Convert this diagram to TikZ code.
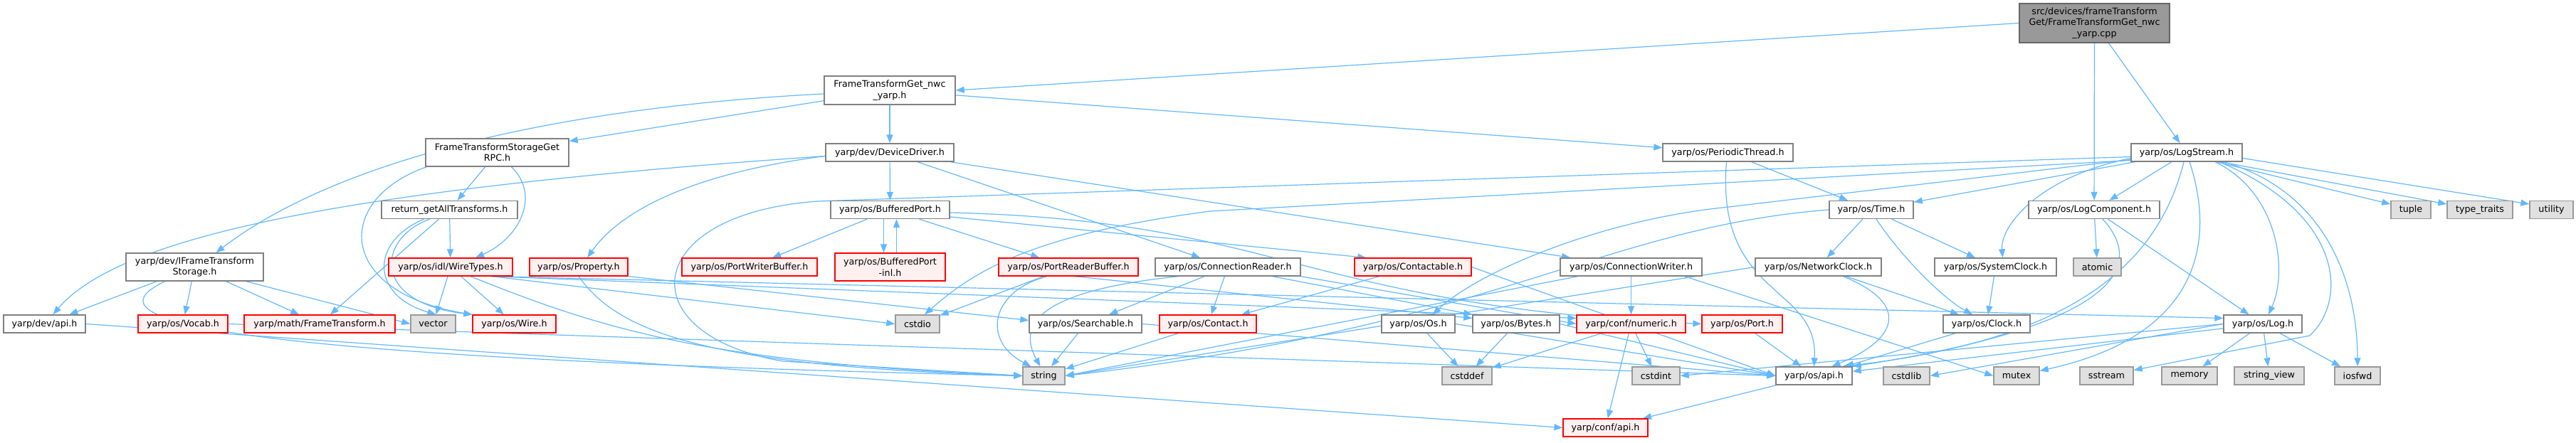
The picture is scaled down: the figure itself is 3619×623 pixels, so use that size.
\documentclass[tikz,border=0pt]{standalone}
\usepackage{fontspec}
\newfontfamily\dvs{DejaVu Sans}
\usetikzlibrary{arrows.meta,calc,backgrounds}
\definecolor{edgeblue}{HTML}{63B8FF}
\definecolor{nodegray}{HTML}{808080}
\definecolor{sysfill}{HTML}{E0E0E0}
\definecolor{sysdraw}{HTML}{999999}
\definecolor{truncfill}{HTML}{FFF0F0}
\definecolor{truncdraw}{HTML}{FF0000}
\definecolor{mainfill}{HTML}{999999}
\definecolor{maindraw}{HTML}{666666}
\begin{document}
\begin{tikzpicture}[x=1pt,y=-1pt,
 nd/.style={draw=nodegray, fill=white, line width=1.4pt, inner sep=0pt, minimum height=25pt, align=center, font=\dvs\fontsize{12.7}{15.5}\selectfont},
 trunc/.style={nd, draw=truncdraw, fill=truncfill, line width=1.2pt},
 sys/.style={nd, draw=sysdraw, fill=sysfill},
 mainnd/.style={nd, draw=maindraw, fill=mainfill},
 dep/.style={draw=edgeblue, line width=1.2pt, -{Triangle[length=12pt,width=9pt]}},
]
\useasboundingbox (0,0) rectangle (3619,623);
% row 0
\node[mainnd, minimum width=211pt, minimum height=55pt] (main) at (2942.5,32.5) {src/devices/frameTransform\\Get/FrameTransformGet\_nwc\\\_yarp.cpp};
% row 1
\node[nd, minimum width=184pt, minimum height=40pt] (FTGet) at (1250,127) {FrameTransformGet\_nwc\\\_yarp.h};
% row 2
\node[nd, minimum width=201pt, minimum height=39pt] (FTRPC) at (698.5,214.5) {FrameTransformStorageGet\\RPC.h};
\node[nd, minimum width=180pt] (DevDrv) at (1250,214.5) {yarp/dev/DeviceDriver.h};
\node[nd, minimum width=183pt] (PerThr) at (2427.5,214.5) {yarp/os/PeriodicThread.h};
\node[nd, minimum width=156pt] (LogStream) at (3072,214.5) {yarp/os/LogStream.h};
% row 3
\node[nd, minimum width=191pt] (retAll) at (631.5,295) {return\_getAllTransforms.h};
\node[nd, minimum width=167pt] (BufPort) at (1250.5,295) {yarp/os/BufferedPort.h};
\node[nd, minimum width=118pt] (Time) at (2629,295) {yarp/os/Time.h};
\node[nd, minimum width=184pt] (LogComp) at (2942,295) {yarp/os/LogComponent.h};
\node[sys, minimum width=56pt] (tuple) at (3387,295) {tuple};
\node[sys, minimum width=92pt] (typetraits) at (3484,295) {type\_traits};
\node[sys, minimum width=61pt] (utility) at (3584.5,295) {utility};
% row 4
\node[nd, minimum width=193pt, minimum height=39pt] (IFTS) at (273.5,375.5) {yarp/dev/IFrameTransform\\Storage.h};
\node[trunc, minimum width=174pt] (WireTypes) at (633,375.5) {yarp/os/idl/WireTypes.h};
\node[trunc, minimum width=138pt] (Property) at (813,375.5) {yarp/os/Property.h};
\node[trunc, minimum width=190pt] (PWBuf) at (1053,375.5) {yarp/os/PortWriterBuffer.h};
\node[trunc, minimum width=155pt, minimum height=39pt] (BPinl) at (1250.5,375.5) {yarp/os/BufferedPort\\-inl.h};
\node[trunc, minimum width=196pt] (PRBuf) at (1501,375.5) {yarp/os/PortReaderBuffer.h};
\node[nd, minimum width=204pt] (ConnR) at (1725,375.5) {yarp/os/ConnectionReader.h};
\node[trunc, minimum width=164pt] (Contactable) at (1985,375.5) {yarp/os/Contactable.h};
\node[nd, minimum width=199pt] (ConnW) at (2291.5,375.5) {yarp/os/ConnectionWriter.h};
\node[nd, minimum width=177pt] (NetClock) at (2554.5,375.5) {yarp/os/NetworkClock.h};
\node[nd, minimum width=171pt] (SysClock) at (2803.5,375.5) {yarp/os/SystemClock.h};
\node[sys, minimum width=67pt] (atomic) at (2946.5,375.5) {atomic};
% row 5
\node[nd, minimum width=115pt] (devapi) at (62.5,455.5) {yarp/dev/api.h};
\node[trunc, minimum width=126pt] (Vocab) at (257,455.5) {yarp/os/Vocab.h};
\node[trunc, minimum width=212pt] (FT) at (449,455.5) {yarp/math/FrameTransform.h};
\node[sys, minimum width=63pt] (vector) at (608.5,455.5) {vector};
\node[trunc, minimum width=117pt] (Wire) at (722.5,455.5) {yarp/os/Wire.h};
\node[sys, minimum width=62pt] (cstdio) at (1289,455.5) {cstdio};
\node[nd, minimum width=158pt] (Searchable) at (1525,455.5) {yarp/os/Searchable.h};
\node[trunc, minimum width=136pt] (Contact) at (1697,455.5) {yarp/os/Contact.h};
\node[nd, minimum width=103pt] (Os) at (1992.5,455.5) {yarp/os/Os.h};
\node[nd, minimum width=122pt] (Bytes) at (2130,455.5) {yarp/os/Bytes.h};
\node[trunc, minimum width=153pt] (numeric) at (2291.5,455.5) {yarp/conf/numeric.h};
\node[trunc, minimum width=113pt] (Port) at (2447.5,455.5) {yarp/os/Port.h};
\node[nd, minimum width=122pt] (Clock) at (2791,455.5) {yarp/os/Clock.h};
\node[nd, minimum width=110pt] (Log) at (3179,455.5) {yarp/os/Log.h};
% row 6
\node[sys, minimum width=59pt] (string) at (1466.5,528.5) {string};
\node[sys, minimum width=70pt] (cstddef) at (2061,528.5) {cstddef};
\node[sys, minimum width=67pt] (cstdint) at (2326.5,528.5) {cstdint};
\node[nd, minimum width=107pt] (osapi) at (2548.5,528.5) {yarp/os/api.h};
\node[sys, minimum width=65pt] (cstdlib) at (2678.5,528.5) {cstdlib};
\node[sys, minimum width=64pt] (mutex) at (2833,528.5) {mutex};
\node[sys, minimum width=75pt] (sstream) at (2959.5,528.5) {sstream};
\node[sys, minimum width=78pt] (memory) at (3076,528.5) {memory};
\node[sys, minimum width=98pt] (strview) at (3188,528.5) {string\_view};
\node[sys, minimum width=64pt] (iosfwd) at (3312,528.5) {iosfwd};
% row 7
\node[trunc, minimum width=119pt] (confapi) at (2255.5,601.5) {yarp/conf/api.h};

\begin{pgfonlayer}{background}
% main
\draw[dep] (main.west) -- (FTGet.east);
\draw[dep] (main) -- (LogComp);
\draw[dep] (main) -- (LogStream);
% FTGet
\draw[dep] (FTGet) -- (FTRPC);
\draw[dep] (FTGet) -- (DevDrv);
\draw[dep] (FTGet) -- (PerThr);
\draw[dep] ($(FTGet.west)+(0,5)$) .. controls (800,150) and (480,220) .. ($(IFTS.north)+(30,0)$);
% FTRPC
\draw[dep] (FTRPC) -- (retAll);
\draw[dep] ($(FTRPC.south)+(20,0)$) .. controls (760,275) and (730,335) .. ($(WireTypes.north)+(35,0)$);
\draw[dep] ($(FTRPC.south west)+(2,0)$) .. controls (470,280) and (470,410) .. (Wire.north west);
% retAll
\draw[dep] (retAll) -- (WireTypes);
\draw[dep] (retAll) -- (FT);
\draw[dep] ($(retAll.south)+(-36,0)$) .. controls (520,340) and (520,415) .. ($(vector.north)+(4,0)$);
\draw[dep] ($(retAll.south)+(-28,0)$) .. controls (530,335) and (520,425) .. (Wire.north west);
% IFTS
\draw[dep] (IFTS) -- (devapi);
\draw[dep] (IFTS) -- (Vocab);
\draw[dep] (IFTS) -- (FT);
\draw[dep] ($(IFTS.south east)+(-25,0)$) -- (vector.west);
\draw[dep] ($(IFTS.south)+(-42,0)$) .. controls (140,440) and (180,500) .. (string.west);
% DevDrv
\draw[dep] (DevDrv) -- (BufPort);
\draw[dep] ($(DevDrv.west)+(0,5)$) .. controls (1000,240) and (880,285) .. ($(Property.north)+(12,0)$);
\draw[dep] ($(DevDrv.west)+(0,5)$) .. controls (500,265) and (170,330) .. ($(devapi.north)+(12,0)$);
\draw[dep] (DevDrv) -- (ConnR);
\draw[dep] (DevDrv) -- (ConnW);
% PerThr
\draw[dep] (PerThr) -- (Time);
\draw[dep] ($(PerThr.south)+(-2,0)$) .. controls (2410,420) and (2555,400) .. (osapi.north);
% LogStream
\draw[dep] (LogStream) -- (Time);
\draw[dep] (LogStream) -- (LogComp);
\draw[dep] ($(LogStream.west)+(0,8)$) .. controls (2860,250) and (2810,320) .. ($(SysClock.north)+(10,0)$);
\draw[dep] ($(LogStream.south)+(40,0)$) .. controls (3200,270) and (3215,380) .. ($(Log.north)+(8,0)$);
\draw[dep] ($(LogStream.south)+(52,0)$) .. controls (3270,270) and (3312,400) .. (iosfwd.north);
\draw[dep] ($(LogStream.south)+(46,0)$) .. controls (3290,300) and (3300,420) .. (3245,472) -- ($(sstream.east)+(0,-8)$);
\draw[dep] ($(LogStream.south)+(4,0)$) .. controls (3110,330) and (3100,470) .. ($(mutex.east)+(0,-7)$);
\draw[dep] ($(LogStream.south)+(-4,0)$) .. controls (3030,380) and (2900,480) .. ($(osapi.north)+(40,0)$);
\draw[dep] ($(LogStream.south)+(42,0)$) -- ($(tuple.west)+(0,-8)$);
\draw[dep] ($(LogStream.south)+(48,0)$) -- ($(typetraits.west)+(0,-8)$);
\draw[dep] ($(LogStream.east)+(0,8)$) -- ($(utility.west)+(0,-8)$);
\draw[dep] ($(LogStream.west)+(0,10)$) -- (2420,292) .. controls (2250,310) and (2080,380) .. ($(Os.north)+(20,0)$);
\draw[dep] ($(LogStream.west)+(0,11)$) -- (1700,297) .. controls (1450,330) and (1370,380) .. ($(cstdio.north)+(10,0)$);
\draw[dep] ($(LogStream.west)+(0,6)$) -- (1150,283) .. controls (900,300) and (880,470) .. (1100,508) -- (string.west);
% LogComp
\draw[dep] (LogComp) -- (atomic);
\draw[dep] (LogComp) -- (Log);
\draw[dep] ($(LogComp.south)+(12,0)$) .. controls (3020,380) and (2960,460) .. (osapi.north east);
% Time
\draw[dep] (Time) -- (NetClock);
\draw[dep] (Time) -- (SysClock);
\draw[dep] ($(Time.south)+(7,0)$) .. controls (2670,360) and (2730,420) .. ($(Clock.north)+(-20,0)$);
\draw[dep] (Time.west) .. controls (2250,320) and (2100,460) .. (string.east);
% NetClock
\draw[dep] (NetClock) -- (Clock);
\draw[dep] ($(NetClock.south)+(35,0)$) .. controls (2690,430) and (2660,480) .. ($(osapi.north)+(25,0)$);
\draw[dep] (NetClock.west) -- (string.east);
% clocks
\draw[dep] (SysClock) -- (Clock);
\draw[dep] (Clock) -- (osapi);
% ConnW
\draw[dep] (ConnW) -- (numeric);
\draw[dep] ($(ConnW.south west)+(25,0)$) -- (string.east);
\draw[dep] ($(ConnW.south east)+(-25,0)$) -- (mutex.west);
% ConnR
\draw[dep] (ConnR) -- (Contact);
\draw[dep] (ConnR) -- (Searchable);
\draw[dep] ($(ConnR.south)+(-70,0)$) .. controls (1500,405) and (1420,440) .. ($(string.north)+(-5,0)$);
\draw[dep] ($(ConnR.south east)+(-40,0)$) -- (Bytes.north west);
\draw[dep] (ConnR.south east) -- (numeric.west);
% PRBuf
\draw[dep] (PRBuf) -- (cstdio);
\draw[dep] ($(PRBuf.south)+(-30,0)$) .. controls (1390,410) and (1380,480) .. ($(string.north)+(-18,0)$);
\draw[dep] ($(PRBuf.south east)+(-90,0)$) -- ($(Bytes.west)+(0,-8)$);
% BufPort
\draw[dep] (BufPort) -- (PRBuf);
\draw[dep] (BufPort) -- (PWBuf);
\draw[dep] ($(BufPort.south)+(-9,0)$) -- ($(BPinl.north)+(-9,0)$);
\draw[dep] ($(BPinl.north)+(9,0)$) -- ($(BufPort.south)+(9,0)$);
\draw[dep] ($(BufPort.east)+(0,10)$) -- ($(Contactable.north west)+(17,0)$);
\draw[dep] ($(BufPort.east)+(0,4)$) .. controls (1800,310) and (1830,430) .. (Port.west);
% Property
\draw[dep] (Property.south) .. controls (870,470) and (1000,515) .. (string.west);
\draw[dep] (Property.south east) -- ($(Searchable.west)+(0,-5)$);
% WireTypes
\draw[dep] (WireTypes) -- (vector);
\draw[dep] (WireTypes) -- (Wire);
\draw[dep] ($(WireTypes.south)+(28,0)$) .. controls (850,465) and (1000,510) .. (string.west);
\draw[dep] ($(WireTypes.south east)+(-30,0)$) -- (cstdio.west);
\draw[dep] ($(WireTypes.south east)+(-30,0)$) -- ($(numeric.west)+(0,-8)$);
\draw[dep] ($(WireTypes.south east)+(-30,0)$) -- ($(Log.west)+(0,-8)$);
% Contactable
\draw[dep] (Contactable) -- (Contact);
\draw[dep] (Contactable.east) -- (osapi.west);
% Contact, Searchable
\draw[dep] (Contact) -- (string);
\draw[dep] (Searchable) -- (string);
\draw[dep] (Searchable.east) -- (osapi.west);
% Os, Bytes, numeric
\draw[dep] (Os) -- (cstddef);
\draw[dep] (Bytes) -- (cstddef);
\draw[dep] (numeric) -- (cstddef);
\draw[dep] (numeric) -- (cstdint);
\draw[dep] (numeric) -- (confapi);
\draw[dep] (Os.east) -- (osapi.west);
\draw[dep] (Bytes.east) -- (osapi.west);
% Port
\draw[dep] (Port) -- (osapi);
% Log
\draw[dep] (Log) -- (osapi);
\draw[dep] (Log) -- (memory);
\draw[dep] (Log) -- (strview);
\draw[dep] (Log) -- (iosfwd);
\draw[dep] (Log.west) -- (cstdint.east);
\draw[dep] (Log.west) -- (cstdlib.east);
% apis
\draw[dep] (osapi) -- (confapi);
\draw[dep] (devapi.east) -- (confapi.west);
\draw[dep] (Vocab.east) -- (osapi.west);
\end{pgfonlayer}
\end{tikzpicture}
\end{document}
